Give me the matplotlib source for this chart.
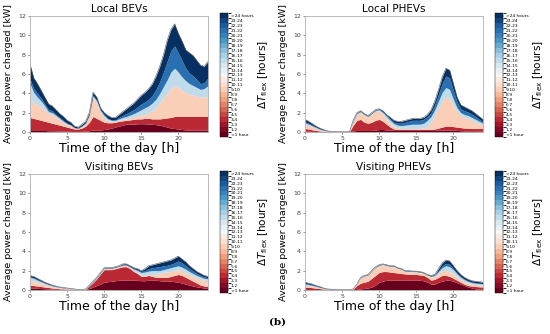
import matplotlib
matplotlib.use("Agg")
import matplotlib.pyplot as plt
import numpy as np
from matplotlib.colors import ListedColormap, BoundaryNorm
from matplotlib.cm import ScalarMappable

# time of day, half-hour steps
hours = np.arange(0, 24.5, 0.5)

# colorbar categories (flexibility in hours)
flex_labels = ["<1 hour"] + ["%d-%d" % (i, i + 1) for i in range(1, 24)] + [">24 hours"]

# cumulative power [kW] up to a flexibility class
# Local BEVs
lb_lt1 = [0.15, 0.15, 0.15, 0.15, 0.15, 0.12, 0.12, 0.1, 0.1, 0.08, 0.08, 0.06, 0.05, 0.05, 0.06, 0.08, 0.12, 0.2, 0.2, 0.2, 0.25,
          0.3, 0.4, 0.5, 0.6, 0.7, 0.8, 0.8, 0.8, 0.85, 0.85, 0.85, 0.8, 0.8, 0.75, 0.7, 0.6, 0.5, 0.4, 0.35, 0.3, 0.25, 0.2,
          0.2, 0.2, 0.2, 0.2, 0.2, 0.2]
lb_lt6 = [1.5, 1.4, 1.3, 1.2, 1.1, 1.0, 0.9, 0.8, 0.7, 0.6, 0.5, 0.4, 0.3, 0.3, 0.4, 0.6, 1.0, 1.6, 1.4, 1.2, 1.0, 0.95, 0.95,
          1.0, 1.1, 1.15, 1.2, 1.25, 1.3, 1.35, 1.35, 1.4, 1.4, 1.35, 1.35, 1.35, 1.4, 1.45, 1.5, 1.6, 1.6, 1.6, 1.6, 1.6,
          1.6, 1.6, 1.6, 1.6, 1.6]
lb_lt12 = [3.5, 3.0, 2.8, 2.6, 2.3, 1.9, 1.8, 1.5, 1.3, 1.0, 0.8, 0.65, 0.4, 0.36, 0.55, 0.85, 1.7, 3.6, 3.0, 2.0, 1.5, 1.2,
           1.05, 1.05, 1.2, 1.3, 1.35, 1.45, 1.55, 1.65, 1.75, 1.85, 2.0, 2.2, 2.5, 3.0, 3.5, 4.0, 4.5, 4.8, 4.6, 4.3, 4.1,
           3.9, 3.8, 3.7, 3.6, 3.6, 3.8]
lb_lt18 = [5.0, 4.1, 3.6, 3.2, 2.7, 2.1, 2.0, 1.7, 1.4, 1.1, 0.85, 0.7, 0.42, 0.38, 0.6, 0.9, 1.75, 3.7, 3.2, 2.2, 1.7, 1.35,
           1.2, 1.2, 1.35, 1.5, 1.6, 1.75, 1.9, 2.1, 2.3, 2.5, 2.7, 3.0, 3.4, 4.0, 4.7, 5.4, 6.2, 6.6, 6.2, 5.7, 5.3, 5.0,
           4.8, 4.6, 4.4, 4.5, 4.8]
lb_lt24 = [5.5, 4.5, 4.0, 3.5, 2.9, 2.3, 2.2, 1.8, 1.5, 1.2, 0.9, 0.75, 0.45, 0.4, 0.65, 0.95, 1.8, 3.8, 3.3, 2.3, 1.8, 1.4,
           1.25, 1.25, 1.5, 1.7, 1.9, 2.1, 2.3, 2.6, 2.9, 3.1, 3.4, 3.8, 4.4, 5.2, 6.2, 7.3, 8.4, 8.9, 8.2, 7.4, 6.6, 6.1,
           5.8, 5.4, 5.0, 5.1, 5.6]
lb_total = [7.0, 5.6, 5.0, 4.3, 3.6, 2.9, 2.7, 2.3, 1.9, 1.6, 1.2, 1.0, 0.6, 0.5, 0.8, 1.1, 2.0, 4.1, 3.6, 2.5, 2.0, 1.7, 1.5,
            1.5, 1.8, 2.1, 2.4, 2.7, 3.0, 3.4, 3.8, 4.1, 4.5, 5.0, 5.8, 6.8, 8.0, 9.5, 10.6, 11.2, 10.2, 9.4, 8.5, 8.2, 7.9,
            7.4, 6.9, 6.8, 7.3]

# Local PHEVs
lp_lt1 = [0.08, 0.07, 0.05, 0.04, 0.03, 0.02, 0.01, 0.01, 0.0, 0.0, 0.0, 0.0, 0.0, 0.1, 0.15, 0.15, 0.15, 0.15, 0.15, 0.2,
          0.25, 0.25, 0.2, 0.2, 0.15, 0.15, 0.15, 0.15, 0.15, 0.15, 0.15, 0.15, 0.15, 0.15, 0.15, 0.15, 0.2, 0.2, 0.2,
          0.2, 0.2, 0.15, 0.12, 0.1, 0.1, 0.1, 0.1, 0.08, 0.08]
lp_lt6 = [0.35, 0.3, 0.22, 0.15, 0.1, 0.06, 0.03, 0.02, 0.01, 0.01, 0.01, 0.01, 0.01, 0.7, 1.2, 1.3, 1.0, 0.9, 1.0, 1.2, 1.3,
          1.1, 0.8, 0.5, 0.3, 0.25, 0.25, 0.25, 0.25, 0.25, 0.25, 0.25, 0.25, 0.25, 0.25, 0.3, 0.4, 0.5, 0.6, 0.6, 0.55,
          0.5, 0.45, 0.4, 0.4, 0.35, 0.35, 0.35, 0.35]
lp_lt12 = [0.8, 0.65, 0.5, 0.35, 0.22, 0.13, 0.07, 0.035, 0.02, 0.015, 0.015, 0.015, 0.015, 1.05, 1.85, 2.05, 1.75, 1.55,
           1.85, 2.15, 2.2, 1.8, 1.3, 0.9, 0.55, 0.4, 0.35, 0.35, 0.35, 0.35, 0.35, 0.35, 0.4, 0.6, 1.0, 1.8, 2.5, 3.2,
           3.6, 3.5, 2.8, 2.1, 1.7, 1.5, 1.4, 1.2, 1.0, 0.85, 0.7]
lp_lt18 = [0.95, 0.8, 0.62, 0.45, 0.28, 0.17, 0.09, 0.045, 0.02, 0.015, 0.015, 0.015, 0.015, 1.1, 1.9, 2.1, 1.8, 1.6, 1.9,
           2.2, 2.3, 2.0, 1.6, 1.2, 0.85, 0.7, 0.65, 0.7, 0.75, 0.8, 0.8, 0.8, 0.9, 1.2, 1.6, 2.3, 3.2, 4.1, 4.6, 4.4, 3.4,
           2.5, 2.0, 1.8, 1.7, 1.5, 1.3, 1.1, 0.9]
lp_lt24 = [1.05, 0.9, 0.7, 0.5, 0.32, 0.2, 0.1, 0.05, 0.02, 0.015, 0.015, 0.015, 0.015, 1.15, 1.95, 2.15, 1.85, 1.65, 1.95,
           2.25, 2.35, 2.1, 1.7, 1.35, 1.0, 0.9, 0.9, 1.0, 1.1, 1.2, 1.2, 1.2, 1.3, 1.6, 2.0, 2.8, 3.9, 5.0, 5.8, 5.6, 4.3,
           3.1, 2.4, 2.2, 2.05, 1.85, 1.6, 1.3, 1.05]
lp_total = [1.3, 1.1, 0.85, 0.6, 0.4, 0.25, 0.12, 0.06, 0.03, 0.02, 0.02, 0.02, 0.02, 1.2, 2.0, 2.2, 1.9, 1.7, 2.0, 2.3, 2.4,
            2.2, 1.8, 1.5, 1.2, 1.1, 1.1, 1.2, 1.3, 1.4, 1.4, 1.4, 1.5, 1.8, 2.3, 3.2, 4.4, 5.7, 6.6, 6.4, 5.0, 3.6, 2.8,
            2.6, 2.4, 2.2, 1.9, 1.6, 1.3]

# Visiting BEVs
vb_lt1 = [0.2, 0.18, 0.16, 0.14, 0.12, 0.1, 0.08, 0.06, 0.05, 0.04, 0.03, 0.02, 0.02, 0.01, 0.01, 0.03, 0.15, 0.3, 0.45,
          0.6, 0.8, 0.85, 0.9, 0.95, 1.0, 1.0, 1.0, 1.0, 1.0, 1.0, 0.95, 0.95, 1.0, 1.0, 1.0, 0.95, 0.9, 0.9, 0.9, 0.85,
          0.8, 0.7, 0.6, 0.5, 0.4, 0.32, 0.25, 0.2, 0.15]
vb_lt6 = [0.5, 0.45, 0.4, 0.35, 0.3, 0.25, 0.2, 0.16, 0.12, 0.1, 0.08, 0.06, 0.04, 0.02, 0.02, 0.06, 0.4, 0.75, 1.15, 1.65,
          2.1, 2.1, 2.1, 2.2, 2.3, 2.4, 2.4, 2.2, 1.9, 1.7, 1.4, 1.4, 1.5, 1.4, 1.3, 1.3, 1.3, 1.3, 1.4, 1.5, 1.6, 1.5, 1.3,
          1.1, 0.9, 0.7, 0.5, 0.4, 0.35]
vb_lt12 = [1.0, 0.9, 0.8, 0.7, 0.55, 0.45, 0.35, 0.28, 0.22, 0.18, 0.14, 0.1, 0.07, 0.035, 0.035, 0.08, 0.42, 0.8, 1.2, 1.7,
           2.2, 2.2, 2.2, 2.3, 2.4, 2.55, 2.55, 2.3, 2.0, 1.8, 1.5, 1.5, 1.6, 1.6, 1.6, 1.7, 1.8, 1.85, 1.9, 2.0, 2.1, 2.0,
           1.8, 1.6, 1.4, 1.25, 1.1, 1.0, 0.95]
vb_lt18 = [1.3, 1.2, 1.0, 0.85, 0.68, 0.55, 0.43, 0.34, 0.26, 0.21, 0.17, 0.12, 0.085, 0.04, 0.04, 0.085, 0.44, 0.84, 1.24,
           1.74, 2.24, 2.24, 2.24, 2.33, 2.43, 2.58, 2.58, 2.38, 2.15, 2.0, 1.8, 1.85, 1.95, 2.0, 2.0, 2.0, 2.1, 2.2, 2.3,
           2.4, 2.5, 2.35, 2.15, 1.9, 1.7, 1.5, 1.35, 1.2, 1.15]
vb_lt24 = [1.35, 1.25, 1.07, 0.9, 0.72, 0.58, 0.45, 0.36, 0.27, 0.22, 0.18, 0.13, 0.09, 0.045, 0.045, 0.09, 0.45, 0.85, 1.25,
           1.75, 2.25, 2.25, 2.25, 2.35, 2.45, 2.6, 2.6, 2.4, 2.2, 2.1, 1.9, 2.0, 2.2, 2.3, 2.35, 2.4, 2.5, 2.55, 2.65, 2.8,
           3.0, 2.8, 2.5, 2.2, 1.95, 1.7, 1.5, 1.35, 1.25]
vb_total = [1.5, 1.4, 1.2, 1.0, 0.8, 0.65, 0.5, 0.4, 0.3, 0.25, 0.2, 0.15, 0.1, 0.05, 0.05, 0.1, 0.5, 0.9, 1.3, 1.8, 2.3,
            2.3, 2.3, 2.4, 2.5, 2.7, 2.7, 2.5, 2.3, 2.2, 2.0, 2.2, 2.5, 2.6, 2.7, 2.8, 2.9, 3.0, 3.1, 3.3, 3.5, 3.2, 2.9,
            2.5, 2.2, 1.9, 1.7, 1.5, 1.4]

# Visiting PHEVs
vp_lt1 = [0.05, 0.04, 0.03, 0.02, 0.02, 0.01, 0.01, 0.0, 0.0, 0.0, 0.0, 0.0, 0.0, 0.0, 0.05, 0.1, 0.15, 0.2, 0.3, 0.5, 0.8,
          0.9, 1.0, 1.0, 1.0, 1.0, 1.0, 1.0, 1.0, 1.0, 1.0, 1.0, 0.95, 0.8, 0.6, 0.6, 0.8, 0.9, 1.0, 1.0, 0.9, 0.75, 0.6,
          0.45, 0.3, 0.2, 0.1, 0.08, 0.05]
vp_lt6 = [0.3, 0.27, 0.23, 0.18, 0.14, 0.08, 0.05, 0.04, 0.03, 0.02, 0.01, 0.01, 0.01, 0.08, 0.45, 0.7, 0.8, 0.9, 1.2, 1.5,
          1.8, 1.9, 1.9, 1.85, 1.8, 1.75, 1.7, 1.65, 1.6, 1.6, 1.6, 1.55, 1.5, 1.3, 1.0, 1.1, 1.3, 1.5, 1.5, 1.4, 1.2, 1.0,
          0.8, 0.6, 0.45, 0.4, 0.35, 0.32, 0.3]
vp_lt12 = [0.5, 0.45, 0.38, 0.3, 0.22, 0.13, 0.07, 0.05, 0.035, 0.03, 0.015, 0.015, 0.015, 0.09, 0.55, 1.2, 1.4, 1.5, 1.9,
           2.3, 2.5, 2.6, 2.5, 2.4, 2.4, 2.2, 2.1, 1.9, 1.9, 1.85, 1.85, 1.8, 1.7, 1.5, 1.3, 1.4, 1.7, 2.0, 2.0, 1.9, 1.7,
           1.35, 1.05, 0.85, 0.7, 0.6, 0.55, 0.52, 0.5]
vp_lt18 = [0.62, 0.55, 0.47, 0.36, 0.27, 0.16, 0.08, 0.06, 0.04, 0.035, 0.018, 0.018, 0.018, 0.095, 0.57, 1.25, 1.45, 1.55,
           1.95, 2.35, 2.55, 2.65, 2.55, 2.45, 2.45, 2.25, 2.15, 1.95, 1.95, 1.9, 1.9, 1.85, 1.75, 1.55, 1.4, 1.5, 1.9,
           2.3, 2.5, 2.4, 2.1, 1.65, 1.3, 1.05, 0.88, 0.75, 0.7, 0.65, 0.62]
vp_lt24 = [0.68, 0.6, 0.51, 0.39, 0.3, 0.17, 0.085, 0.065, 0.042, 0.036, 0.018, 0.018, 0.018, 0.095, 0.57, 1.25, 1.45,
           1.55, 1.95, 2.35, 2.55, 2.65, 2.55, 2.45, 2.45, 2.25, 2.15, 1.95, 1.95, 1.9, 1.9, 1.85, 1.75, 1.55, 1.42, 1.55,
           2.0, 2.5, 2.75, 2.65, 2.2, 1.75, 1.4, 1.12, 0.93, 0.8, 0.75, 0.7, 0.66]
vp_total = [0.8, 0.7, 0.6, 0.45, 0.35, 0.2, 0.1, 0.08, 0.05, 0.04, 0.02, 0.02, 0.02, 0.1, 0.6, 1.3, 1.5, 1.6, 2.0, 2.4,
            2.6, 2.7, 2.6, 2.5, 2.5, 2.3, 2.2, 2.0, 2.0, 1.95, 1.95, 1.9, 1.8, 1.6, 1.5, 1.6, 2.2, 2.8, 3.1, 3.0, 2.5, 2.0,
            1.6, 1.3, 1.1, 0.95, 0.9, 0.85, 0.8]

panels = [
    ("Local BEVs", [lb_lt1, lb_lt6, lb_lt12, lb_lt18, lb_lt24, lb_total]),
    ("Local PHEVs", [lp_lt1, lp_lt6, lp_lt12, lp_lt18, lp_lt24, lp_total]),
    ("Visiting BEVs", [vb_lt1, vb_lt6, vb_lt12, vb_lt18, vb_lt24, vb_total]),
    ("Visiting PHEVs", [vp_lt1, vp_lt6, vp_lt12, vp_lt18, vp_lt24, vp_total]),
]

# 25 discrete colours from RdBu, one per flexibility class
rdbu = plt.get_cmap("RdBu")
class_colors = rdbu(np.linspace(0, 1, 25))
cmap = ListedColormap(class_colors)
norm = BoundaryNorm(np.arange(26), 25)
# colour used for each stacked band (class in the middle of the band)
band_class = [0, 3, 9, 15, 21, 24]

fig = plt.figure(figsize=(5.5, 3.34), dpi=100)

ax_pos = [(0.0545, 0.605), (0.5545, 0.605), (0.0545, 0.132), (0.5545, 0.132)]
cb_pos = [(0.400, 0.590, 0.371), (0.900, 0.590, 0.371), (0.400, 0.123, 0.365), (0.900, 0.123, 0.365)]

for (title, bounds), (x0, y0), (cx, cy, ch) in zip(panels, ax_pos, cb_pos):
    ax = fig.add_axes([x0, y0, 0.3236, 0.347])
    lower = np.zeros(len(hours))
    for b, cls in zip(bounds, band_class):
        upper = np.array(b)
        ax.fill_between(hours, lower, upper, color=class_colors[cls], lw=0)
        lower = upper
    ax.plot(hours, bounds[-1], color="#5a5a5a", lw=0.4)

    ax.set_xlim(0, 24)
    ax.set_ylim(0, 12)
    ax.set_xticks([0, 5, 10, 15, 20])
    ax.set_yticks(range(0, 13, 2))
    ax.tick_params(labelsize=4.5, length=1.5, width=0.4, pad=1.5, colors="#444444")
    for s in ax.spines.values():
        s.set_color("#b0b0b0")
        s.set_linewidth(0.6)
    ax.set_title(title, fontsize=7.5, pad=3)
    ax.set_xlabel("Time of the day [h]", fontsize=9, labelpad=1)
    ax.set_ylabel("Average power charged [kW]", fontsize=6.8)
    ax.yaxis.set_label_coords(-0.095, 0.5)

    cax = fig.add_axes([cx, cy, 0.0145, ch])
    sm = ScalarMappable(norm=norm, cmap=cmap)
    cb = fig.colorbar(sm, cax=cax)
    cb.set_ticks(np.arange(25) + 0.5)
    cb.set_ticklabels(flex_labels)
    cb.ax.tick_params(labelsize=3.2, length=1, width=0.3, pad=1)
    cb.outline.set_linewidth(0.3)
    cb.set_label(r"$\Delta T_{\rm flex}$ [hours]", fontsize=7.5)
    cax.yaxis.set_label_coords(4.6, 0.5)

fig.text(0.504, 0.035, "(b)", fontsize=7.5, fontweight="bold", family="DejaVu Serif", ha="center", va="center")

fig.savefig("out.png", dpi=100)
